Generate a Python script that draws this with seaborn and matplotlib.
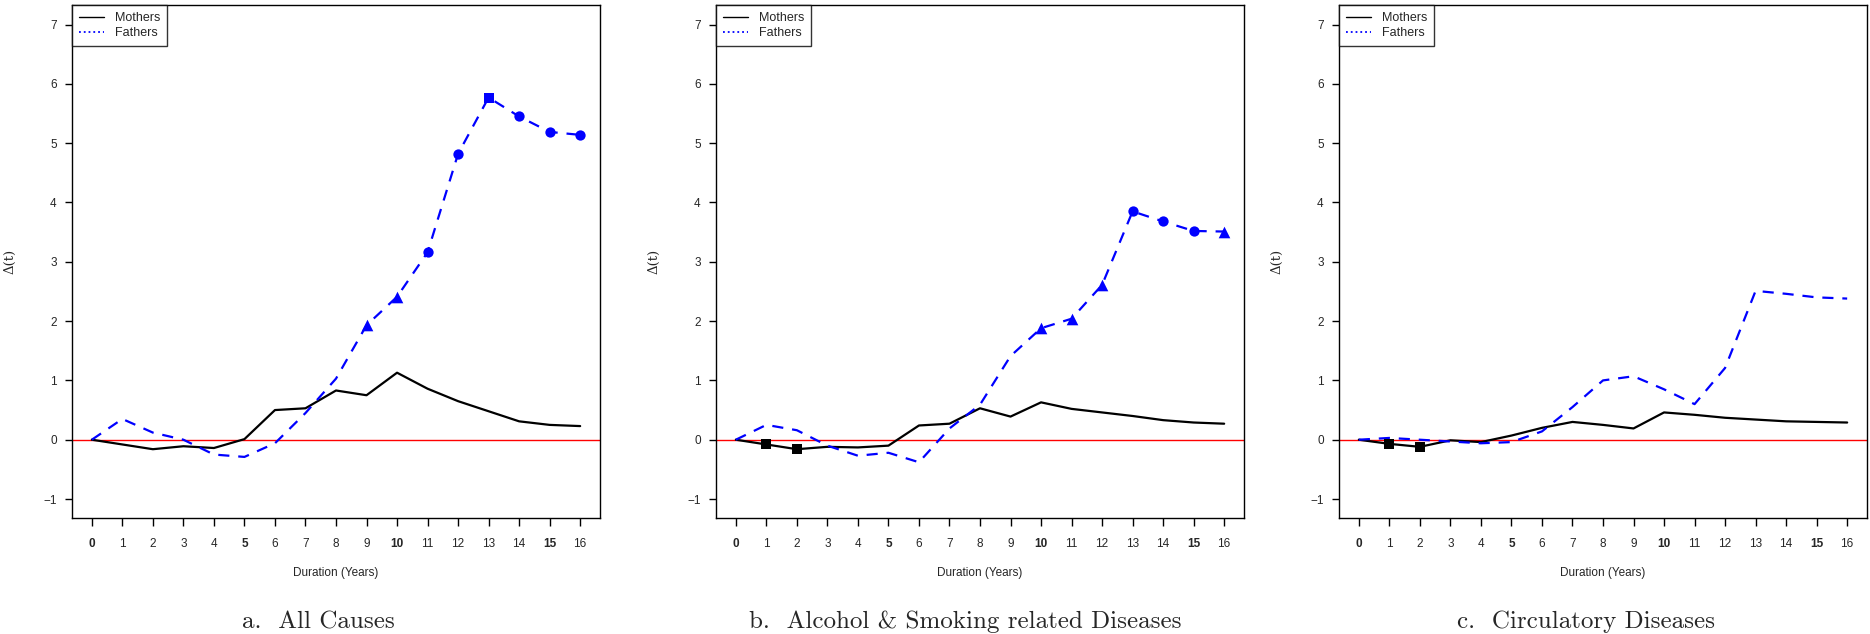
import numpy as np
import pandas as pd
import seaborn as sns
import matplotlib.pyplot as plt
from matplotlib.lines import Line2D

years = list(range(17))
tick_labels = [str(y) for y in years]
bold_ticks = [0, 5, 10, 15]

titles = ["a.  All Causes",
          "b.  Alcohol & Smoking related Diseases",
          "c.  Circulatory Diseases"]

mothers_a = [0, -0.08, -0.16, -0.11, -0.14, 0.01, 0.50, 0.53, 0.83, 0.75,
             1.13, 0.86, 0.65, 0.48, 0.31, 0.25, 0.23]
fathers_a = [0, 0.35, 0.12, 0.0, -0.25, -0.29, -0.06, 0.45, 1.03, 1.93,
             2.41, 3.16, 4.82, 5.77, 5.45, 5.19, 5.14]
mothers_b = [0, -0.08, -0.16, -0.12, -0.13, -0.10, 0.24, 0.27, 0.53, 0.39,
             0.63, 0.52, 0.46, 0.40, 0.33, 0.29, 0.27]
fathers_b = [0, 0.25, 0.16, -0.10, -0.27, -0.22, -0.38, 0.19, 0.59, 1.41,
             1.88, 2.04, 2.61, 3.85, 3.68, 3.52, 3.51]
mothers_c = [0, -0.07, -0.12, -0.01, -0.04, 0.07, 0.20, 0.30, 0.25, 0.19,
             0.46, 0.42, 0.37, 0.34, 0.31, 0.30, 0.29]
fathers_c = [0, 0.03, 0.0, -0.03, -0.06, -0.04, 0.14, 0.55, 1.00, 1.07,
             0.85, 0.60, 1.21, 2.51, 2.46, 2.40, 2.38]

# significance markers per point ('' = none)
mk_mothers_a = [''] * 17
mk_fathers_a = [''] * 9 + ['^', '^', 'o', 'o', 's', 'o', 'o', 'o']
mk_mothers_b = ['', 's', 's'] + [''] * 14
mk_fathers_b = [''] * 10 + ['^', '^', '^', 'o', 'o', 'o', '^']
mk_mothers_c = ['', 's', 's'] + [''] * 14
mk_fathers_c = [''] * 17

panels = [
    (mothers_a, fathers_a, mk_mothers_a, mk_fathers_a),
    (mothers_b, fathers_b, mk_mothers_b, mk_fathers_b),
    (mothers_c, fathers_c, mk_mothers_c, mk_fathers_c),
]

sns.set_style("white")
plt.rcParams['font.family'] = ['Liberation Sans', 'DejaVu Sans']

W, H = 1870, 634
fig = plt.figure(figsize=(W / 100, H / 100), dpi=100)

ax_left = [72, 716, 1339]
ax_w = 528
ax_top, ax_bot = 5, 518
caption_x = [318, 965, 1586]
sizes = {'^': 70, 'o': 55, 's': 45}

for k, (mo, fa, mkm, mkf) in enumerate(panels):
    ax = fig.add_axes([ax_left[k] / W, 1 - ax_bot / H, ax_w / W, (ax_bot - ax_top) / H])
    df = pd.DataFrame({"year": years, "mothers": mo, "fathers": fa,
                       "mk_m": mkm, "mk_f": mkf})

    ax.axhline(0, color="red", lw=1, zorder=1)
    sns.lineplot(data=df, x="year", y="mothers", color="black", lw=1.6, ax=ax, zorder=3)
    sns.lineplot(data=df, x="year", y="fathers", color="blue", lw=1.6,
                 linestyle=(0, (5, 4)), ax=ax, zorder=3)

    for col, mcol, color in [("mothers", "mk_m", "black"), ("fathers", "mk_f", "blue")]:
        for m in ['^', 'o', 's']:
            sub = df[df[mcol] == m]
            if len(sub):
                sns.scatterplot(data=sub, x="year", y=col, marker=m, color=color,
                                s=sizes[m], linewidth=0, ax=ax, zorder=4)

    ax.set_xlim(-0.65, 16.65)
    ax.set_ylim(-1.32, 7.33)
    ax.set_xticks(years)
    ax.set_xticklabels(tick_labels)
    for lab, y in zip(ax.get_xticklabels(), years):
        if y in bold_ticks:
            lab.set_fontweight("bold")
    ax.set_yticks(range(-1, 8))
    ax.set_yticklabels(["\u22121"] + [str(v) for v in range(0, 8)])
    ax.tick_params(axis="x", length=5.5, width=1, pad=9, labelsize=8.5, color="black", direction="out")
    ax.tick_params(axis="y", length=5, width=1, pad=6, labelsize=8.5, color="black", direction="out")
    ax.tick_params(bottom=True, left=True)
    for s in ax.spines.values():
        s.set_color("black")
        s.set_linewidth(1)

    ax.set_xlabel("Duration (Years)", fontsize=8.5, labelpad=12)
    ax.set_ylabel("Δ(t)", fontsize=9.5, family=["DejaVu Serif"])
    ax.yaxis.set_label_coords(-0.106, 0.5)

    handles = [Line2D([], [], color="black", lw=1),
               Line2D([], [], color="blue", lw=1.3, linestyle=":")]
    leg = ax.legend(handles, ["Mothers", "Fathers"], loc="upper left", fontsize=9,
                    frameon=True, fancybox=False, borderaxespad=0, handlelength=2.0,
                    borderpad=0.55, labelspacing=0.25, handletextpad=0.9)
    leg.get_frame().set_edgecolor("black")
    leg.get_frame().set_linewidth(1)

    fig.text(caption_x[k] / W, 1 - 622 / H, titles[k], ha="center", va="center",
             fontsize=18, family=["cmr10", "DejaVu Serif"])

fig.savefig("out.png", dpi=100)
